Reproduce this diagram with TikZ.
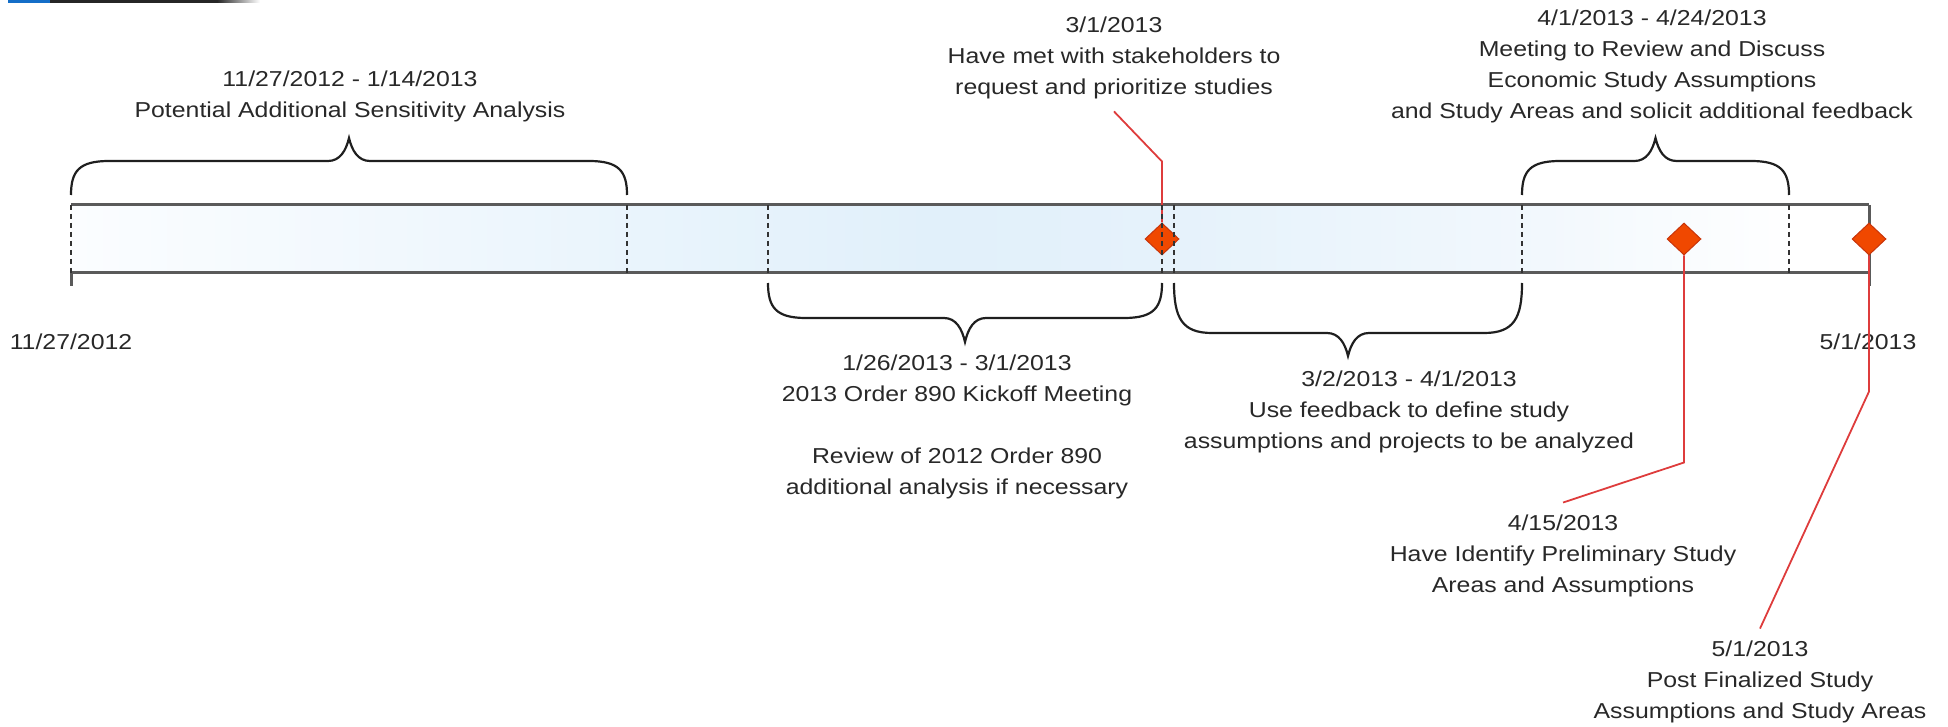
\documentclass[tikz,border=0pt]{standalone}
\usepackage{fontspec}
\setmainfont{Liberation Sans}[FakeStretch=1.15]
\usepackage{tikz}
\usetikzlibrary{shapes.geometric}

\definecolor{textgray}{RGB}{40,40,40}
\definecolor{edgegray}{RGB}{90,90,90}
\definecolor{barA}{RGB}{251,253,255}
\definecolor{barB}{RGB}{233,244,252}
\definecolor{barblue}{RGB}{225,240,250}
\definecolor{barC}{RGB}{230,242,251}
\definecolor{barD}{RGB}{242,248,253}
\definecolor{msfill}{RGB}{240,72,0}
\definecolor{msedge}{RGB}{200,52,10}
\definecolor{calloutred}{RGB}{222,60,60}
\definecolor{stripblue}{RGB}{20,110,200}

\pgfdeclarehorizontalshading{barshade}{100bp}{color(0bp)=(white); color(25bp)=(barA); color(41bp)=(barB); color(49bp)=(barblue); color(56bp)=(barC); color(66bp)=(barD); color(73bp)=(white); color(100bp)=(white)}

% x1, x2, end y, flat y, tip y
\newcommand{\timebrace}[5]{%
  \pgfmathsetmacro{\bmid}{(#1+#2)/2}%
  \pgfmathsetmacro{\bknee}{#3+0.7*(#4-#3)}%
  \pgfmathsetmacro{\bvee}{#4+0.45*(#5-#4)}%
  \draw[bracket] (#1,#3) .. controls (#1,\bknee) and (#1+8,#4) .. (#1+38,#4)
    -- (\bmid-21,#4) .. controls (\bmid-9,#4) and (\bmid-3,\bvee) .. (\bmid,#5)
    .. controls (\bmid+3,\bvee) and (\bmid+9,#4) .. (\bmid+21,#4)
    -- (#2-38,#4) .. controls (#2-8,#4) and (#2,\bknee) .. (#2,#3);
}

\begin{document}
\begin{tikzpicture}[x=0.5pt,y=-0.5pt,
  note/.style={align=center,text=textgray,font=\fontsize{10.8}{15.5}\selectfont,inner sep=6pt},
  bracket/.style={draw=black!88,line width=1.1pt},
  divider/.style={draw=black!80,line width=1pt,dash pattern=on 2.5pt off 2pt},
  edge/.style={draw=edgegray,line width=1.5pt},
  milestone/.style={diamond,fill=msfill,draw=msedge,line width=0.5pt,minimum width=17pt,minimum height=16pt,inner sep=0pt},
  callout/.style={draw=calloutred,line width=0.9pt}]
\useasboundingbox (0,0) rectangle (1948,727);
% strip in the corner
\fill[stripblue] (8,0) rectangle (50,3);
\fill[black!85] (50,0) rectangle (217,3);
\shade[left color=black!85,right color=white] (217,0) rectangle (260,3);

% the bar
\shade[shading=barshade] (71,205) rectangle (1869,273);
\draw[edge] (71,205) -- (1869,205);
\draw[edge] (71,273) -- (1869,273);
\draw[edge] (1869,205) -- (1869,286);
\draw[edge] (71,273) -- (71,286);

% braces
\timebrace{71}{627}{195}{161}{138}
\timebrace{1522}{1789}{195}{161}{138}
\timebrace{768}{1162}{283}{318}{342}
\timebrace{1174}{1522}{283}{333}{356}

% texts
\node[note] (spanA) at (350,96) {11/27/2012 - 1/14/2013\\Potential Additional Sensitivity Analysis};
\node[note] (msA) at (1114,58) {3/1/2013\\Have met with stakeholders to\\request and prioritize studies};
\node[note] (spanD) at (1652,66) {4/1/2013 - 4/24/2013\\Meeting to Review and Discuss\\Economic Study Assumptions\\and Study Areas and solicit additional feedback};
\node[note] (spanB) at (957,427) {1/26/2013 - 3/1/2013\\2013 Order 890 Kickoff Meeting\\[15.5pt]Review of 2012 Order 890\\additional analysis if necessary};
\node[note] (spanC) at (1409,412) {3/2/2013 - 4/1/2013\\Use feedback to define study\\assumptions and projects to be analyzed};
\node[note] (msB) at (1563,556) {4/15/2013\\Have Identify Preliminary Study\\Areas and Assumptions};
\node[note] (msC) at (1760,682) {5/1/2013\\Post Finalized Study\\Assumptions and Study Areas};
\node[note] (start) at (71,342) {11/27/2012};
\node[note] (finish) at (1868,342) {5/1/2013};

% milestones
\node[milestone] (d1) at (1162,239) {};
\node[milestone] (d2) at (1684,239) {};
\node[milestone] (d3) at (1869,239) {};

\draw[callout] (d1.north) -- ++(0,-61) -- (msA.south);
\draw[callout] (d2.south) -- ++(0,207) -- (msB.north);
\draw[callout] (d3.south) -- ++(0,136) -- (msC.north);

\foreach \x in {71,627,768,1162,1174,1522,1789}
  \draw[divider] (\x,205) -- (\x,273);
\end{tikzpicture}
\end{document}
